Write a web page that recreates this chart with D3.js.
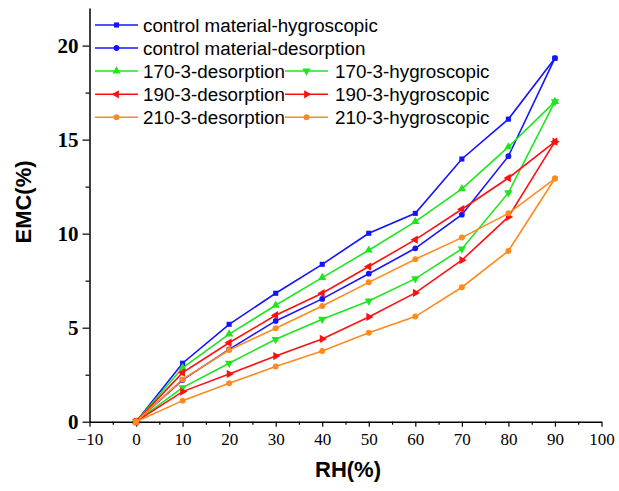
<!DOCTYPE html>
<html>
<head>
<meta charset="utf-8">
<script src="https://d3js.org/d3.v7.min.js"></script>
<style>
  body { margin: 0; background: #fff; }
  .tick-x text { font-family: "Liberation Serif", serif; font-size: 17px; }
  .tick-y text { font-family: "Liberation Serif", serif; font-size: 21px; font-weight: bold; }
  .axis-title { font-family: "Liberation Sans", Arial, sans-serif; font-size: 22px; font-weight: bold; }
  .legend text { font-family: "Liberation Sans", Arial, sans-serif; font-size: 18.8px; }
</style>
</head>
<body>
<div id="chart"></div>
<script>
// relative humidity steps
const rh = [0, 10, 20, 30, 40, 50, 60, 70, 80, 90];

// EMC values (%)
const ctrlHygro   = [0, 3.11, 5.18, 6.83, 8.37, 10.02, 11.08, 13.97, 16.09, 19.33];
const ctrlDesorp  = [0, 2.22, 3.85, 5.36, 6.53, 7.87, 9.22, 11.01, 14.12, 19.33];
const t170Desorp  = [0, 2.87, 4.66, 6.19, 7.66, 9.12, 10.64, 12.38, 14.61, 17.02];
const t170Hygro   = [0, 1.81, 3.11, 4.38, 5.45, 6.42, 7.61, 9.19, 12.18, 17.02];
const t190Desorp  = [0, 2.61, 4.20, 5.66, 6.83, 8.25, 9.68, 11.30, 12.96, 14.89];
const t190Hygro   = [0, 1.60, 2.54, 3.49, 4.40, 5.57, 6.85, 8.59, 10.89, 14.89];
const t210Desorp  = [0, 2.25, 3.81, 4.97, 6.15, 7.41, 8.64, 9.79, 11.08, 12.93];
const t210Hygro   = [0, 1.12, 2.04, 2.93, 3.76, 4.73, 5.59, 7.15, 9.08, 12.93];

const xTicks = [-10, 0, 10, 20, 30, 40, 50, 60, 70, 80, 90, 100];
const yTicks = [0, 5, 10, 15, 20];

const blue = '#1414ff', green = '#1ee61e', red = '#ff1010', orange = '#ff8a1e';

const series = [
    { name: 'control material-hygroscopic', values: ctrlHygro,  color: blue,   shape: d3.symbolSquare,   rot: 0,   size: 26 },
    { name: 'control material-desorption',  values: ctrlDesorp, color: blue,   shape: d3.symbolCircle,   rot: 0,   size: 26 },
    { name: '170-3-desorption',             values: t170Desorp, color: green,  shape: d3.symbolTriangle, rot: 0,   size: 30 },
    { name: '170-3-hygroscopic',            values: t170Hygro,  color: green,  shape: d3.symbolTriangle, rot: 180, size: 30 },
    { name: '190-3-desorption',             values: t190Desorp, color: red,    shape: d3.symbolTriangle, rot: -90, size: 30 },
    { name: '190-3-hygroscopic',            values: t190Hygro,  color: red,    shape: d3.symbolTriangle, rot: 90,  size: 30 },
    { name: '210-3-desorption',             values: t210Desorp, color: orange, shape: d3.symbolCircle,   rot: 0,   size: 28 },
    { name: '210-3-hygroscopic',            values: t210Hygro,  color: orange, shape: d3.symbolCircle,   rot: 0,   size: 28 }
];

const w = 619, h = 491;

const xScale = d3.scaleLinear().domain([-10, 100]).range([89.5, 601.5]);
const yScale = d3.scaleLinear().domain([0, 22]).range([421.7, 8]);

const svg = d3.select('#chart')
    .append('svg')
    .attr('width', w)
    .attr('height', h);

// x axis: minor ticks first, then major ticks with labels
const xMinor = d3.range(-5, 100, 10);
svg.append('g')
    .attr('transform', 'translate(0,' + yScale(0) + ')')
    .call(d3.axisBottom(xScale).tickValues(xMinor).tickSize(3).tickFormat(''))
    .call(g => g.select('.domain').remove())
    .selectAll('line').attr('stroke', '#000').attr('stroke-width', 1.2);

svg.append('g')
    .attr('class', 'tick-x')
    .attr('transform', 'translate(0,' + yScale(0) + ')')
    .call(d3.axisBottom(xScale).tickValues(xTicks).tickSize(5).tickSizeOuter(0).tickPadding(6)
        .tickFormat(d => d < 0 ? '\u2212' + Math.abs(d) : d))
    .call(g => g.select('.domain').attr('stroke-width', 1.5))
    .call(g => g.selectAll('line').attr('stroke-width', 1.2))
    .call(g => g.selectAll('text').attr('fill', '#000'));

// y axis
const yMinor = [2.5, 7.5, 12.5, 17.5];
svg.append('g')
    .attr('transform', 'translate(' + xScale(-10) + ',0)')
    .call(d3.axisLeft(yScale).tickValues(yMinor).tickSize(4).tickFormat(''))
    .call(g => g.select('.domain').remove())
    .selectAll('line').attr('stroke', '#000').attr('stroke-width', 1.2);

svg.append('g')
    .attr('class', 'tick-y')
    .attr('transform', 'translate(' + xScale(-10) + ',0)')
    .call(d3.axisLeft(yScale).tickValues(yTicks).tickSize(7).tickSizeOuter(0).tickPadding(4))
    .call(g => g.select('.domain').attr('stroke-width', 1.5))
    .call(g => g.selectAll('line').attr('stroke-width', 1.2))
    .call(g => g.selectAll('text').attr('fill', '#000'));

// axis titles
svg.append('text')
    .attr('class', 'axis-title')
    .attr('x', 348)
    .attr('y', 477)
    .attr('text-anchor', 'middle')
    .text('RH(%)');

svg.append('text')
    .attr('class', 'axis-title')
    .attr('transform', 'translate(31,202) rotate(-90)')
    .attr('text-anchor', 'middle')
    .text('EMC(%)');

// lines + markers
const line = d3.line()
    .x((d, i) => xScale(rh[i]))
    .y(d => yScale(d));

series.forEach(s => {
    svg.append('path')
        .datum(s.values)
        .attr('d', line)
        .attr('fill', 'none')
        .attr('stroke', s.color)
        .attr('stroke-width', 1.6);
});

series.forEach(s => {
    svg.append('g')
        .selectAll('path')
        .data(s.values)
        .enter()
        .append('path')
        .attr('d', d3.symbol().type(s.shape).size(s.size))
        .attr('transform', (d, i) => 'translate(' + xScale(rh[i]) + ',' + yScale(d) + ') rotate(' + s.rot + ')')
        .attr('fill', s.color);
});

// legend: two single rows, then three rows with two columns
const legendPos = [
    [95, 25], [95, 48],
    [95, 71], [285, 71],
    [95, 94.3], [285, 94.3],
    [95, 117.3], [285, 117.3]
];

const legend = svg.append('g').attr('class', 'legend');
series.forEach((s, i) => {
    const [lx, ly] = legendPos[i];
    const g = legend.append('g').attr('transform', 'translate(' + lx + ',' + ly + ')');
    g.append('line')
        .attr('x1', 0).attr('x2', 43)
        .attr('y1', 0).attr('y2', 0)
        .attr('stroke', s.color)
        .attr('stroke-width', 1.6);
    g.append('path')
        .attr('d', d3.symbol().type(s.shape).size(s.size))
        .attr('transform', 'translate(21.5,0) rotate(' + s.rot + ')')
        .attr('fill', s.color);
    g.append('text')
        .attr('x', i % 2 === 1 && i > 1 ? 50 : 48)
        .attr('y', 6.5)
        .attr('fill', '#000')
        .text(s.name);
});
</script>
</body>
</html>
